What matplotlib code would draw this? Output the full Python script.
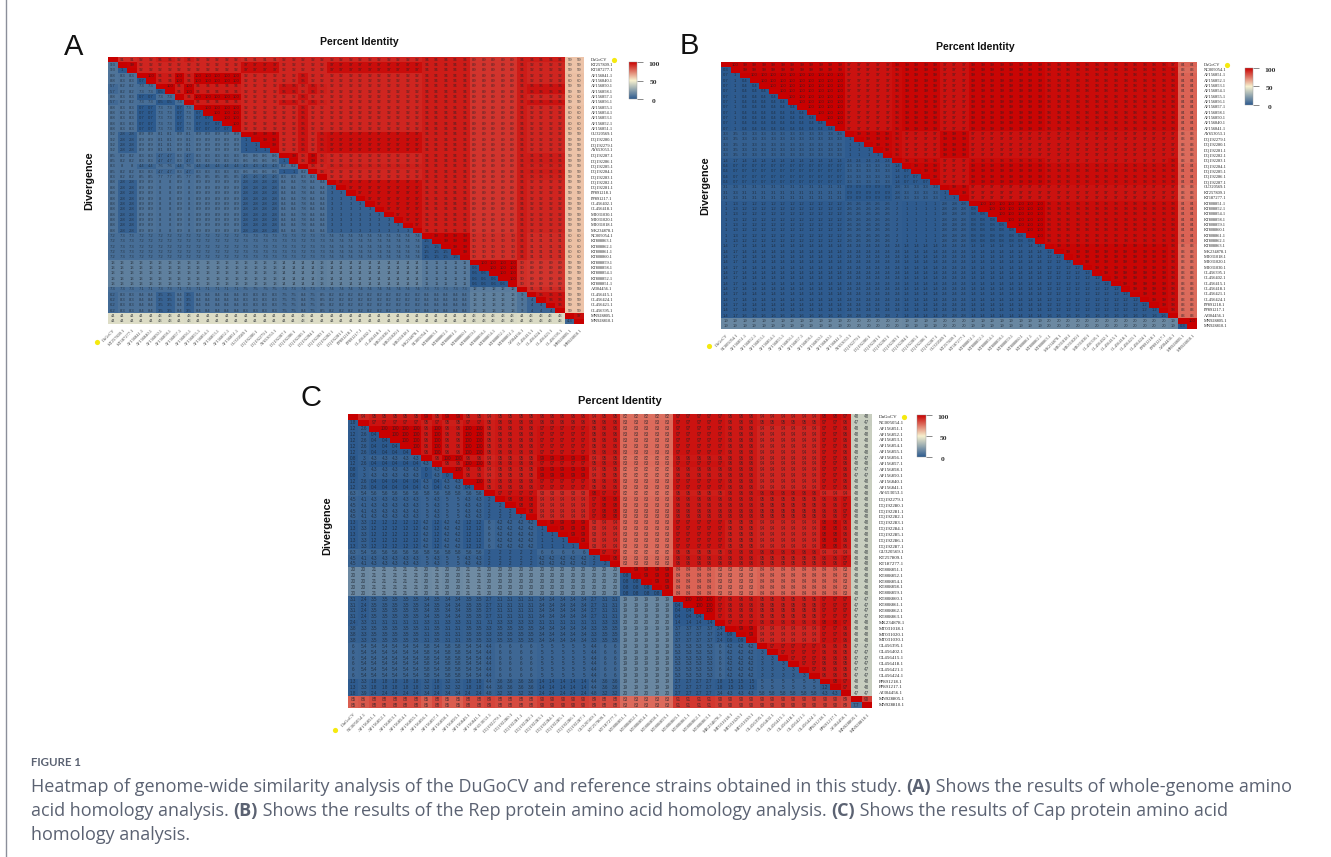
import matplotlib
matplotlib.use("Agg")
import matplotlib.pyplot as plt
from matplotlib.colors import LinearSegmentedColormap, TwoSlopeNorm, Normalize
from matplotlib.cm import ScalarMappable
import numpy as np

W, H = 1331, 857

# ------------------------------------------------------------------ strains
A_strains = ["DuGoCV", "KT257809.1", "KT187277.1", "AF156841.1", "AF156840.1", "AF156850.1", "AF156858.1",
             "AF156857.1", "AF156856.1", "AF156855.1", "AF156854.1", "AF156853.1", "AF156852.1", "AF156851.1",
             "GU320569.1", "DQ192280.1", "DQ192279.1", "AY653053.1", "DQ192287.1", "DQ192286.1", "DQ192285.1",
             "DQ192284.1", "DQ192283.1", "DQ192282.1", "DQ192281.1", "PP891218.1", "PP891217.1", "OL456402.1",
             "OL456418.1", "MT031030.1", "MT031020.1", "MT031018.1", "MK234878.1", "NC005054.1", "KT808863.1",
             "KT808862.1", "KT808861.1", "KT808860.1", "KT808859.1", "KT808858.1", "KT808854.1", "KT808852.1",
             "KT808851.1", "AJ304456.1", "OL456415.1", "OL456424.1", "OL456421.1", "OL456395.1", "MN928805.1",
             "MN928810.1"]
B_strains = ["DuGoCV", "NC005054.1", "AF156851.1", "AF156852.1", "AF156853.1", "AF156854.1", "AF156855.1",
             "AF156856.1", "AF156857.1", "AF156858.1", "AF156850.1", "AF156840.1", "AF156841.1", "AY653053.1",
             "DQ192279.1", "DQ192280.1", "DQ192281.1", "DQ192282.1", "DQ192283.1", "DQ192284.1", "DQ192285.1",
             "DQ192286.1", "DQ192287.1", "GU320569.1", "KT257809.1", "KT187277.1", "KT808851.1", "KT808852.1",
             "KT808854.1", "KT808858.1", "KT808859.1", "KT808860.1", "KT808861.1", "KT808862.1", "KT808863.1",
             "MK234878.1", "MT031018.1", "MT031020.1", "MT031030.1", "OL456395.1", "OL456402.1", "OL456415.1",
             "OL456418.1", "OL456421.1", "OL456424.1", "PP891218.1", "PP891217.1", "AJ304456.1", "MN928805.1",
             "MN928810.1"]
C_strains = list(B_strains)

# ------------------------------------------------------------------ clades (block number per strain)
A_clade = [0, 1, 1, 2, 2, 3, 3, 2, 3, 2, 2, 2, 2, 2, 4, 4, 4, 4, 5, 5, 6, 5, 7, 8, 8, 8, 8, 8, 8, 8, 8, 8, 8,
           9, 9, 9, 9, 9, 10, 10, 10, 10, 10, 11, 12, 12, 12, 12, 13, 13]
B_clade = [0, 1, 2, 2, 2, 2, 2, 2, 2, 2, 2, 2, 2, 3, 3, 3, 3, 3, 4, 5, 5, 5, 5, 6, 6, 6, 7, 7, 7, 7, 7, 7, 7, 7,
           8, 8, 8, 8, 8, 8, 8, 8, 8, 8, 8, 8, 8, 9, 10, 10]
C_clade = [0, 1, 2, 2, 2, 2, 2, 3, 2, 3, 3, 2, 2, 4, 5, 5, 5, 5, 6, 6, 6, 6, 6, 4, 5, 5, 7, 7, 7, 7, 7, 8, 8, 8,
           8, 9, 10, 10, 10, 11, 11, 11, 11, 11, 11, 12, 12, 13, 14, 14]

# ------------------------------------------------------------------ percent identity between clades (upper half)
A_identity = [[91, 92, 94, 91, 92, 92, 92, 92, 94, 89, 94, 94, 59],
              [92, 92, 97, 92, 92, 92, 97, 94, 89, 94, 92, 59],
              [94, 92, 92, 96, 92, 92, 94, 89, 94, 92, 60],
              [92, 96, 93, 93, 92, 94, 89, 94, 96, 59],
              [92, 96, 96, 97, 94, 89, 94, 92, 59],
              [93, 93, 92, 94, 89, 94, 94, 59],
              [92, 93, 94, 89, 94, 93, 59],
              [92, 94, 89, 94, 93, 59],
              [94, 89, 94, 92, 59],
              [90, 94, 91, 60],
              [90, 89, 59],
              [91, 59],
              [59]]
B_identity = [[100, 99, 97, 99, 99, 97, 99, 98, 97, 84],
              [99, 97, 98, 99, 97, 99, 98, 98, 83],
              [97, 98, 99, 97, 99, 98, 98, 84],
              [98, 97, 99, 97, 97, 97, 83],
              [98, 97, 98, 97, 98, 83],
              [97, 99, 98, 98, 84],
              [97, 97, 97, 83],
              [98, 98, 84],
              [98, 83],
              [83]]
C_identity = [[94, 95, 99, 94, 95, 96, 82, 97, 97, 96, 94, 98, 97, 48],
              [97, 95, 95, 96, 96, 83, 97, 97, 96, 95, 97, 96, 47],
              [96, 95, 96, 97, 83, 97, 97, 96, 94, 97, 96, 48],
              [94, 95, 99, 82, 96, 96, 96, 94, 97, 96, 47],
              [97, 93, 82, 95, 95, 96, 96, 94, 94, 48],
              [94, 83, 96, 96, 96, 95, 96, 97, 48],
              [83, 97, 97, 95, 94, 98, 96, 48],
              [84, 83, 83, 84, 84, 83, 48],
              [97, 96, 95, 97, 97, 47],
              [97, 96, 98, 97, 48],
              [94, 97, 96, 48],
              [96, 95, 47],
              [97, 48],
              [47]]

# ------------------------------------------------------------------ divergence between clades (lower half)
A_divergence = [[9.3],
                [8.8, 8.3],
                [5.7, 8.2, 7.3],
                [9.2, 2.8, 8.9, 8.1],
                [8.5, 8.2, 8.3, 4.7, 8.6],
                [8.3, 8.0, 4.4, 7.6, 4.3, 8.2],
                [8.3, 8.2, 8.5, 7.7, 4.6, 8.3, 8.3],
                [8.8, 2.8, 8.9, 8.0, 2.8, 8.4, 7.8, 8.4],
                [7.2, 7.3, 7.2, 7.2, 7.3, 7.3, 7.2, 7.3, 7.4],
                [13, 13, 13, 13, 13, 14, 14, 13, 14, 11],
                [7.3, 7.3, 7.1, 7.3, 7.5, 7.3, 7.4, 7.3, 7.4, 7.3, 12],
                [6.2, 8.3, 8.4, 3.5, 8.3, 7.5, 8.4, 8.5, 8.2, 8.4, 13, 9],
                [44, 44, 44, 43, 44, 44, 43, 44, 44, 44, 43, 44, 43]]
B_divergence = [[0.3],
                [0.7, 1],
                [3.3, 3.5, 3.3],
                [1.4, 1.7, 1.4, 2.4],
                [0.4, 0.7, 0.7, 3.3, 1.4],
                [3.1, 3.3, 3.1, 0.9, 2.8, 3.3],
                [1, 1.3, 1.2, 2.6, 2, 1, 2.8],
                [1.4, 1.7, 1.4, 2.4, 2.4, 1.4, 2.4, 1.4],
                [1.4, 1.7, 1.6, 2.8, 2, 1.4, 2.8, 1.4, 1.6],
                [19, 19, 19, 20, 20, 19, 20, 19, 20, 19]]
C_divergence = [[1.8],
                [1.2, 2.6],
                [0.8, 3, 4.3],
                [6.3, 5.4, 5.6, 5.8],
                [4.5, 4.1, 4.3, 5, 2],
                [1.3, 3.3, 1.2, 4.2, 6, 4.2],
                [20, 20, 21, 20, 20, 20, 20],
                [3.1, 2.4, 3.5, 3.4, 2.7, 3.1, 3.4, 19],
                [2.4, 3.3, 3.1, 3.3, 3.1, 3.3, 3.1, 20, 1.4],
                [3.8, 3.3, 3.5, 3.1, 3.3, 3.5, 3.4, 19, 3.7, 2.4],
                [6.0, 5.4, 5.4, 5.8, 4.4, 6.0, 5.0, 19, 5.3, 6, 4.2],
                [1.3, 3.3, 1.8, 3.2, 4.4, 3.6, 1.4, 19, 2.7, 1.8, 1.5, 5],
                [1.8, 3.9, 2.4, 3.4, 4.8, 3.2, 2.4, 20, 2.7, 3.4, 4.3, 5.8, 4.3],
                [85, 86, 88, 85, 89, 88, 90, 83, 91, 90, 90, 90, 90, 89]]

# ------------------------------------------------------------------ values inside one clade
A_within_id = [100, 99, 100, 100, 99, 99, 100, 100, 97, 99, 100, 100, 96, 97]
A_within_div = [0, 1, 0.7, 0.5, 1, 1, 0, 0, 3, 1.5, 0.6, 0, 4, 4.3]
B_within_id = [100, 100, 100, 99, 100, 99, 99, 100, 99, 100, 100]
B_within_div = [0, 0, 0.4, 1, 0, 0.7, 1, 0.8, 1.2, 0, 0.3]
C_within_id = [100, 100, 100, 100, 98, 98, 99, 99, 100, 100, 99, 97, 98, 100, 90]
C_within_div = [0, 0, 0.4, 0, 2, 2, 1, 0.8, 0.4, 0, 0.9, 3, 1.2, 0, 7.7]

FONT_TITLE = "Liberation Sans"
FONT_LABEL = "Liberation Serif"
CAPTION_FONT = "Open Sans"
CAPTION_COLOR = "#5b6272"

cmap = LinearSegmentedColormap.from_list("pid", ["#2b598e", "#f6f0ce", "#c80000"])


def build(clade, identity, divergence, w_id, w_div):
    n = len(clade)
    m = np.zeros((n, n))
    for i in range(n):
        for j in range(n):
            a, b = clade[i], clade[j]
            if i == j:
                m[i, j] = 100
            elif a == b:
                m[i, j] = w_id[a] if i < j else w_div[a]
            elif i < j:
                lo, hi = min(a, b), max(a, b)
                m[i, j] = identity[lo][hi - lo - 1]
            else:
                lo, hi = min(a, b), max(a, b)
                m[i, j] = divergence[hi - 1][lo]
    return m


def fmt(v):
    if v >= 10:
        return f"{v:.0f}"
    return f"{v:.1f}".rstrip("0").rstrip(".") if v != 0 else "0"


def px_axes(fig, x0, y0, x1, y1):
    return fig.add_axes([x0 / W, 1 - y1 / H, (x1 - x0) / W, (y1 - y0) / H])


fig = plt.figure(figsize=(W / 100, H / 100), dpi=100, facecolor="white")
over = fig.add_axes([0, 0, 1, 1], zorder=5)
over.set_xlim(0, W)
over.set_ylim(H, 0)
over.axis("off")


def panel(letter, letter_xy, strains, m, box, vcenter, title_xy, title_fs, div_xy, font_row, font_cell,
          cb_box, dot_right, dot_low):
    x0, y0, x1, y1 = box
    n = len(strains)
    ax = px_axes(fig, x0, y0, x1, y1)
    norm = TwoSlopeNorm(vmin=0, vcenter=vcenter, vmax=100)
    ax.imshow(m, cmap=cmap, norm=norm, aspect="auto", interpolation="nearest")
    ax.axis("off")
    for i in range(n):
        for j in range(n):
            if i != j:
                ax.text(j, i, fmt(m[i, j]), ha="center", va="center", fontsize=font_cell,
                        family=FONT_TITLE, color="#1a2028", alpha=0.75)
    cw, ch = (x1 - x0) / n, (y1 - y0) / n
    for i, s in enumerate(strains):
        yc = y0 + (i + 0.5) * ch
        xc = x0 + (i + 0.5) * cw
        over.text(x1 + 7, yc, s, ha="left", va="center", fontsize=font_row, family=FONT_LABEL, color="#222222")
        over.text(xc + 1, y1 + 4, s, ha="right", va="top", fontsize=font_row, family=FONT_LABEL, color="#444444",
                  rotation=45, rotation_mode="anchor")
    over.scatter(*dot_right, s=14, color="#f5e90f", linewidths=0)
    over.scatter(*dot_low, s=14, color="#f5e90f", linewidths=0)
    over.text(*title_xy, "Percent Identity", ha="center", va="center", fontsize=title_fs, fontweight="bold",
              family=FONT_TITLE, color="#111111")
    over.text(*div_xy, "Divergence", ha="center", va="center", rotation=90, fontsize=7.8, fontweight="bold",
              family=FONT_TITLE, color="#111111")
    over.text(*letter_xy, letter, ha="center", va="center", fontsize=21, family=FONT_TITLE, color="#111111")
    # colour key
    cx0, cy0, cx1, cy1 = cb_box
    cax = px_axes(fig, cx0, cy0, cx1, cy1)
    cb = fig.colorbar(ScalarMappable(norm=Normalize(0, 100), cmap=cmap), cax=cax)
    cb.set_ticks([0, 50, 100])
    cb.set_ticklabels([])
    cb.outline.set_linewidth(0.3)
    cb.outline.set_edgecolor("#999999")
    cax.tick_params(length=4.5, width=0.7, color="#888888", pad=1)
    for v, t in zip([0, 0.5, 1], ["0", "50", "100"]):
        yy = cy1 - v * (cy1 - cy0) + 2
        over.text(cx1 + 17, yy, t, ha="center", va="center", fontsize=5.4, fontweight="bold",
                  family=FONT_LABEL, color="#333333")


panel("A", (74, 47), A_strains, build(A_clade, A_identity, A_divergence, A_within_id, A_within_div),
      (108, 57, 584, 324), 50, (359, 42), 7.6, (89, 181), 3.2, 3.0, (629, 62, 637, 99), (614, 60), (97, 342))
panel("B", (689, 46), B_strains, build(B_clade, B_identity, B_divergence, B_within_id, B_within_div),
      (721, 62, 1197, 329), 62, (975, 47), 7.6, (705, 186), 3.2, 3.0, (1245, 68, 1253, 105), (1227, 65), (709, 346))
panel("C", (311, 398), C_strains, build(C_clade, C_identity, C_divergence, C_within_id, C_within_div),
      (348, 414, 872, 708), 62, (620, 401), 8.0, (327, 526), 3.5, 3.3, (917, 415, 926, 457), (904, 417), (335, 730))

# ------------------------------------------------------------------ frame and caption
over.plot([6, 6], [0, H], color="#8b8f9a", lw=1.0)

over.text(31, 763, "FIGURE 1", fontsize=8.3, fontweight="bold", family="Lato", color=CAPTION_COLOR,
          ha="left", va="center")

caption_lines = [
    [("Heatmap of genome-wide similarity analysis of the DuGoCV and reference strains obtained in this study. ", False),
     ("(A)", True), (" Shows the results of whole-genome amino", False)],
    [("acid homology analysis. ", False), ("(B)", True),
     (" Shows the results of the Rep protein amino acid homology analysis. ", False), ("(C)", True),
     (" Shows the results of Cap protein amino acid", False)],
    [("homology analysis.", False)],
]
renderer = fig.canvas.get_renderer()
for yy, line in zip([787, 811, 835], caption_lines):
    x = 31
    for seg, bold in line:
        t = over.text(x, yy, seg.replace(" ", "\u00a0"), fontsize=12.95, family=CAPTION_FONT, color=CAPTION_COLOR,
                      fontweight="bold" if bold else "normal", ha="left", va="center")
        bb = t.get_window_extent(renderer)
        x += bb.width

fig.savefig("out.png", dpi=100, facecolor="white")
